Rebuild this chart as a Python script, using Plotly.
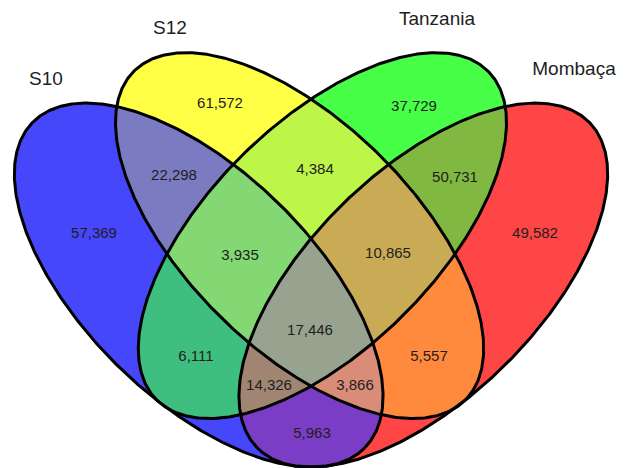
import numpy as np
import plotly.graph_objects as go

# ---- data ----
set_names = ["S10", "S12", "Tanzania", "Mombaça"]
# membership key per region: one character per set (S10, S12, Tanzania, Mombaça)
region_keys = ["1000", "0100", "0010", "0001", "1100", "0110", "0011", "1110",
               "0111", "1111", "1010", "0101", "1011", "1101", "1001"]
region_values = [57369, 61572, 37729, 49582, 22298, 4384, 50731, 3935,
                 10865, 17446, 6111, 5557, 14326, 3866, 5963]

# ---- layout / style ----
W, H = 629, 468
# ellipse geometry in pixel space: centre x, centre y, semi-major, semi-minor, angle (deg)
ellipses = [
    (198.7, 285.1, 232.5, 114.3, 44.4),    # S10
    (299.6, 235.6, 233.4, 113.5, 44.7),    # S12
    (322.4, 235.6, 233.4, 113.5, 135.3),   # Tanzania
    (423.3, 285.1, 232.5, 114.3, 135.6),   # Mombaça
]
region_colors = {
    "1000": "#4646FA", "0100": "#FFFF45", "0010": "#46FF46", "0001": "#FF4646",
    "1100": "#7B7BC1", "0110": "#BDF548", "0011": "#80B842", "1110": "#84D874",
    "0111": "#C9AB56", "1111": "#98A38F", "1010": "#3EBE7F", "0101": "#FF8A3E",
    "1011": "#A08672", "1101": "#D98C78", "1001": "#7C3DC6",
}
label_pos = {
    "1000": (94, 234), "0100": (220, 104), "0010": (414, 107), "0001": (535, 234),
    "1100": (174, 176), "0110": (315, 170), "0011": (455, 178), "1110": (240, 256),
    "0111": (388, 254), "1111": (310, 331), "1010": (196, 357), "0101": (429, 357),
    "1011": (269, 386), "1101": (355, 386), "1001": (312, 434),
}
name_pos = [(46, 80), (170, 29), (437, 20), (574, 70)]


def inside(params, X, Y):
    cx, cy, a, b, ang = params
    t = np.radians(ang)
    dx, dy = X - cx, Y - cy
    u = dx * np.cos(t) + dy * np.sin(t)
    v = -dx * np.sin(t) + dy * np.cos(t)
    return (u / a) ** 2 + (v / b) ** 2 < 1


def outline(params, n=600):
    cx, cy, a, b, ang = params
    t = np.radians(ang)
    s = np.linspace(0, 2 * np.pi, n)
    u, v = a * np.cos(s), b * np.sin(s)
    return cx + u * np.cos(t) - v * np.sin(t), cy + u * np.sin(t) + v * np.cos(t)


def code_of(key):
    return sum(int(ch) << i for i, ch in enumerate(key))


cols = ["#FFFFFF"] * 16
for k, c in region_colors.items():
    cols[code_of(k)] = c
cscale = []
for i in range(16):
    cscale.append([i / 16, cols[i]])
    cscale.append([(i + 1) / 16, cols[i]])

xs = np.arange(W)
ys = np.arange(H)
X, Y = np.meshgrid(xs, ys)
Z = np.zeros(X.shape)
for i, e in enumerate(ellipses):
    Z += inside(e, X, Y) * (1 << i)

fig = go.Figure()
fig.add_trace(go.Heatmap(x=xs, y=ys, z=Z, zmin=-0.5, zmax=15.5, colorscale=cscale,
                         showscale=False, hoverinfo="skip"))
for e in ellipses:
    ox, oy = outline(e)
    fig.add_trace(go.Scatter(x=ox, y=oy, mode="lines", line=dict(color="black", width=3),
                             hoverinfo="skip", showlegend=False))

fig.add_trace(go.Scatter(
    x=[label_pos[k][0] for k in region_keys], y=[label_pos[k][1] for k in region_keys],
    text=[f"{v:,}" for v in region_values], mode="text",
    textfont=dict(family="Liberation Sans, Arial", size=15, color="#1e1e1e"),
    hoverinfo="skip", showlegend=False))

fig.add_trace(go.Scatter(
    x=[p[0] for p in name_pos], y=[p[1] for p in name_pos], text=set_names, mode="text",
    textfont=dict(family="Liberation Sans, Arial", size=19, color="#1e1e1e"),
    hoverinfo="skip", showlegend=False))

fig.update_layout(width=W, height=H, margin=dict(l=0, r=0, t=0, b=0),
                  plot_bgcolor="white", paper_bgcolor="white", showlegend=False)
fig.update_xaxes(range=[0, W], visible=False, fixedrange=True)
fig.update_yaxes(range=[H, 0], visible=False, fixedrange=True)
fig.write_html("out.html", config={"displayModeBar": False},
               post_script="document.body.style.margin='0';")
